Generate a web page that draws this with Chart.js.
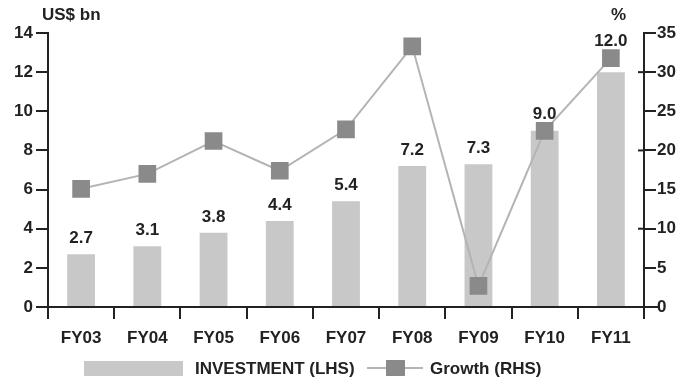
<!DOCTYPE html>
<html>
<head>
<meta charset="utf-8">
<script src="https://cdn.jsdelivr.net/npm/chart.js@4"></script>
<style>
  html, body { margin: 0; padding: 0; background: #fff; }
  #wrap { width: 685px; height: 379px; position: relative; }
</style>
</head>
<body>
<div id="wrap"><canvas id="my-chart" width="685" height="379"></canvas></div>
<script>
// chart data
const years = ["FY03", "FY04", "FY05", "FY06", "FY07", "FY08", "FY09", "FY10", "FY11"];
const investment = [2.7, 3.1, 3.8, 4.4, 5.4, 7.2, 7.3, 9.0, 12.0];
const growth = [15.1, 17.0, 21.2, 17.4, 22.7, 33.3, 2.7, 22.5, 31.8];
const leftTicks = [0, 2, 4, 6, 8, 10, 12, 14];
const rightTicks = [0, 5, 10, 15, 20, 25, 30, 35];

const FONT = "'Liberation Sans', Arial, sans-serif";
const ink = "#222222";

// value labels above bars, axis titles, axis extras and the legend
const extras = {
  id: "extras",
  afterDatasetsDraw(chart) {
    const ctx = chart.ctx;
    const bars = chart.getDatasetMeta(1).data;
    const pts = chart.getDatasetMeta(0).data;
    ctx.save();
    ctx.fillStyle = ink;
    ctx.font = "bold 17px " + FONT;
    ctx.textAlign = "center";
    ctx.textBaseline = "alphabetic";
    bars.forEach((bar, i) => {
      let y = bar.y - 11;
      // push the label above a marker sitting on the bar top
      if (pts[i].y > bar.y - 40 && pts[i].y < bar.y + 15) {
        y = Math.min(y, pts[i].y - 12);
      }
      ctx.fillText(investment[i].toFixed(1), bar.x, y);
    });
    ctx.restore();
  },
  afterDraw(chart) {
    const ctx = chart.ctx;
    const area = chart.chartArea;
    const r = chart.scales.y1;
    ctx.save();
    // x axis runs a little past both value axes
    ctx.strokeStyle = ink;
    ctx.lineWidth = 2;
    ctx.beginPath();
    ctx.moveTo(area.left - 12, area.bottom);
    ctx.lineTo(area.right + 15, area.bottom);
    ctx.stroke();
    // major right ticks cross the axis
    [10, 20, 30].forEach(v => {
      const y = r.getPixelForValue(v);
      ctx.beginPath();
      ctx.moveTo(area.right - 6, y);
      ctx.lineTo(area.right, y);
      ctx.stroke();
    });

    ctx.fillStyle = ink;
    ctx.font = "bold 17px " + FONT;
    ctx.textBaseline = "middle";
    ctx.textAlign = "left";
    ctx.fillText("US$ bn", 42, 15);
    ctx.fillText("%", 611, 15);

    // legend
    ctx.fillStyle = "#c8c8c8";
    ctx.fillRect(84, 361, 99, 15);
    ctx.fillStyle = ink;
    ctx.fillText("INVESTMENT (LHS)", 195, 369);
    ctx.strokeStyle = "#b4b4b4";
    ctx.lineWidth = 2;
    ctx.beginPath();
    ctx.moveTo(367, 368);
    ctx.lineTo(423, 368);
    ctx.stroke();
    ctx.fillStyle = "#8a8a8a";
    ctx.fillRect(386, 360, 19, 16);
    ctx.fillStyle = ink;
    ctx.fillText("Growth (RHS)", 430, 369);
    ctx.restore();
  }
};

const ctx = document.getElementById("my-chart").getContext("2d");

const myChart = new Chart(ctx, {
  type: "bar",
  data: {
    labels: years,
    datasets: [
      {
        type: "line",
        label: "Growth (RHS)",
        data: growth,
        yAxisID: "y1",
        borderColor: "#b4b4b4",
        borderWidth: 2,
        pointStyle: "rect",
        pointRadius: 12.5,
        pointBackgroundColor: "#8a8a8a",
        pointBorderWidth: 0,
        tension: 0,
        order: 0
      },
      {
        label: "INVESTMENT (LHS)",
        data: investment,
        yAxisID: "y",
        backgroundColor: "#c8c8c8",
        categoryPercentage: 1,
        barPercentage: 0.42,
        order: 1
      }
    ]
  },
  options: {
    responsive: false,
    animation: false,
    layout: { padding: { top: 33, left: 0, right: 0, bottom: 0 } },
    plugins: {
      legend: { display: false },
      tooltip: { enabled: false }
    },
    scales: {
      x: {
        offset: true,
        afterFit: (s) => { s.height = 72; },
        border: { display: true, color: ink, width: 2 },
        grid: {
          offset: true,
          drawOnChartArea: false,
          drawTicks: true,
          tickLength: 12,
          color: ink,
          lineWidth: 2
        },
        ticks: {
          color: ink,
          padding: 9,
          font: { family: FONT, size: 17, weight: "bold" }
        }
      },
      y: {
        position: "left",
        min: 0,
        max: 14,
        afterFit: (s) => { s.width = 48; },
        afterBuildTicks: (s) => { s.ticks = leftTicks.map(v => ({ value: v })); },
        border: { display: true, color: ink, width: 2 },
        grid: {
          drawOnChartArea: false,
          drawTicks: true,
          tickLength: 12,
          color: ink,
          lineWidth: 2
        },
        ticks: {
          color: ink,
          padding: 3,
          font: { family: FONT, size: 17, weight: "bold" }
        }
      },
      y1: {
        position: "right",
        min: 0,
        max: 35,
        afterFit: (s) => { s.width = 41; },
        afterBuildTicks: (s) => { s.ticks = rightTicks.map(v => ({ value: v })); },
        border: { display: true, color: ink, width: 2 },
        grid: {
          drawOnChartArea: false,
          drawTicks: true,
          tickLength: 12,
          color: ink,
          lineWidth: 2
        },
        ticks: {
          color: ink,
          padding: 1,
          font: { family: FONT, size: 17, weight: "bold" }
        }
      }
    }
  },
  plugins: [extras]
});
</script>
</body>
</html>
